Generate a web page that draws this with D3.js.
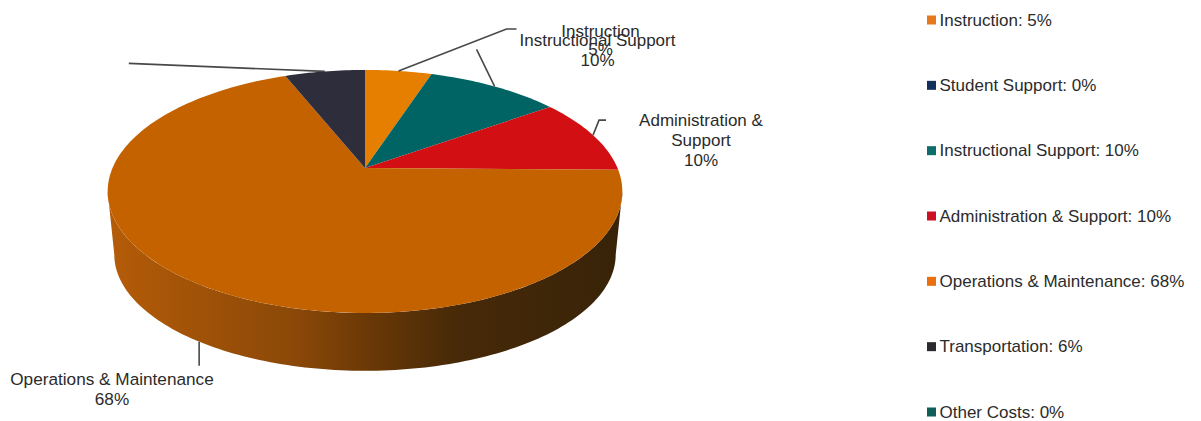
<!DOCTYPE html>
<html>
<head>
<meta charset="utf-8">
<script src="https://cdn.jsdelivr.net/npm/d3@7"></script>
<style>
  html, body { margin: 0; padding: 0; background: #fff; }
  text { font-family: "Liberation Sans", Arial, sans-serif; fill: #2b2b2b; }
</style>
</head>
<body>
<div id="chart"></div>
<script>
// the data
var categories = ["Instruction", "Student Support", "Instructional Support", "Administration & Support",
                  "Operations & Maintenance", "Transportation", "Other Costs"];
var values = [5, 0, 10, 10, 68, 6, 0];
var sliceColors = ["#e67e00", "#12305a", "#006464", "#d20f12", "#c46200", "#2d2d3b", "#0f5f58"];
var legendColors = ["#e8781e", "#12305a", "#0f6c6c", "#cc1024", "#e8700f", "#2b2b2f", "#0f5f58"];

var width = 1201, height = 421;

var svg = d3.select("#chart")
  .append("svg")
    .attr("width", width)
    .attr("height", height)
    .style("display", "block");

// the pie is tilted, so the far half is squashed more than the near half
var apex = {x: 365, y: 168};
var tilt = 0.193;
var topFace = {rx: 252.5, ry: 117, drop: 0};
var bottomFace = {rx: 246, ry: 112, drop: 64};

function project(angle, face) {
  var u = Math.sin(angle), v = Math.cos(angle), s = 1 + tilt * v;
  return [apex.x + face.rx * u / s, apex.y + face.drop - face.ry * v / s];
}

function arcPoints(a0, a1, face) {
  var n = Math.max(2, Math.ceil(Math.abs(a1 - a0) / 0.02));
  return d3.range(n + 1).map(function(i) {
    return project(a0 + (a1 - a0) * i / n, face);
  });
}

var pie = d3.pie().sort(null).value(function(d) { return d; });
var slices = pie(values);
var line = d3.line();

// side wall, from the right edge of the disc round the front to the left edge
var edge = Math.acos(-tilt);
var wallGradient = svg.append("defs").append("linearGradient")
  .attr("id", "wall")
  .attr("gradientUnits", "userSpaceOnUse")
  .attr("x1", 107).attr("x2", 621).attr("y1", 0).attr("y2", 0);
[[0, "#b55c08"], [0.37, "#8a4808"], [0.5, "#6c3906"], [0.68, "#472a08"], [1, "#382308"]].forEach(function(s) {
  wallGradient.append("stop").attr("offset", s[0]).attr("stop-color", s[1]);
});

svg.append("path")
  .attr("d", line(arcPoints(edge, 2 * Math.PI - edge, topFace)
    .concat(arcPoints(2 * Math.PI - edge, edge, bottomFace))) + "Z")
  .attr("fill", "url(#wall)");

// top of the pie
svg.selectAll("path.slice")
  .data(slices.filter(function(d) { return d.value > 0; }))
  .enter()
  .append("path")
    .attr("class", "slice")
    .attr("fill", function(d) { return sliceColors[d.index]; })
    .attr("d", function(d) {
      return line([[apex.x, apex.y]].concat(arcPoints(d.startAngle, d.endAngle, topFace))) + "Z";
    });

// leader lines and labels, offsets are from where the leader leaves the slice
var labelLayout = [
  {i: 0, face: topFace, elbow: [108, -42], end: [10, 0], text: [600.5, 37], gap: 18, size: 17, lines: ["Instruction", "5%"]},
  {i: 2, face: topFace, elbow: [-18, -37], end: [0, 0], text: [597.5, 46], gap: 20, size: 17, lines: ["Instructional Support", "10%"]},
  {i: 3, face: topFace, elbow: [6, -15], end: [7, 0], text: [701, 126], gap: 20, size: 17, lines: ["Administration &", "Support", "10%"]},
  {i: 4, face: bottomFace, elbow: [0, 24], end: [0, 0], text: [112, 385], gap: 20, size: 17.2, lines: ["Operations & Maintenance", "68%"]},
  {i: 5, face: topFace, elbow: [-196, -8], end: [0, 0], text: null, lines: []}
];

labelLayout.forEach(function(l) {
  var s = slices[l.i];
  var p = project((s.startAngle + s.endAngle) / 2, l.face);
  var q = [p[0] + l.elbow[0], p[1] + l.elbow[1]];
  svg.append("path")
    .attr("d", line([p, q, [q[0] + l.end[0], q[1] + l.end[1]]]))
    .attr("fill", "none")
    .attr("stroke", "#484848")
    .attr("stroke-width", 1.6);
  l.lines.forEach(function(t, j) {
    svg.append("text")
      .attr("x", l.text[0])
      .attr("y", l.text[1] + j * l.gap)
      .attr("text-anchor", "middle")
      .attr("font-size", l.size)
      .text(t);
  });
});

// legend
var legendY = d3.scalePoint().domain(categories).range([25.5, 417.5]);
var legend = svg.selectAll("g.legend")
  .data(categories)
  .enter()
  .append("g")
    .attr("class", "legend")
    .attr("transform", function(d) { return "translate(927," + legendY(d) + ")"; });
legend.append("rect")
  .attr("y", -10)
  .attr("width", 9)
  .attr("height", 9)
  .attr("fill", function(d, i) { return legendColors[i]; });
legend.append("text")
  .attr("x", 12.5)
  .attr("font-size", 17)
  .text(function(d, i) { return d + ": " + values[i] + "%"; });
</script>
</body>
</html>
